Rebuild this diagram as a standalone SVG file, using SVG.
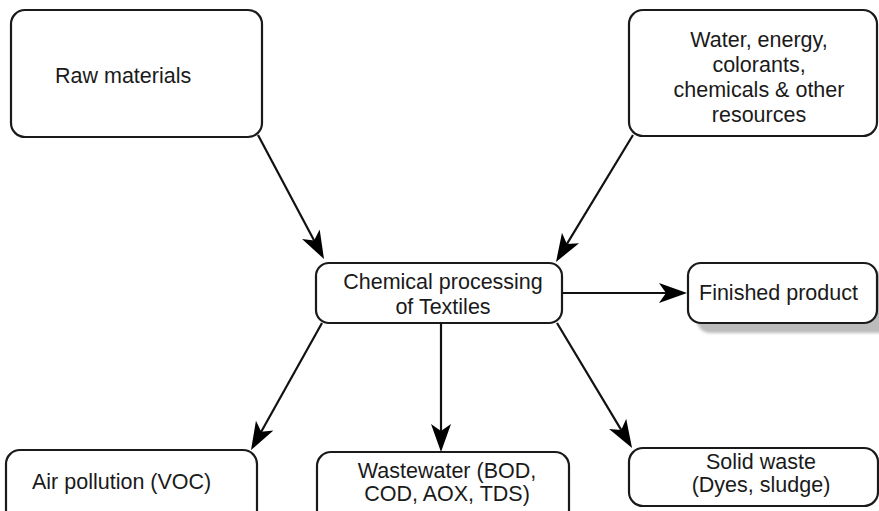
<svg xmlns="http://www.w3.org/2000/svg" width="879" height="511" viewBox="0 0 879 511">
  <style>
    .box { fill: #ffffff; stroke: #1a1a1a; stroke-width: 2.2; }
    .shadow { fill: #bbbbbb; }
    .lbl { font-family: "Liberation Sans", Arial, sans-serif; font-size: 21.5px; fill: #1a1a1a; }
    .mid { text-anchor: middle; }
    .edge { stroke: #111111; stroke-width: 2.2; fill: none; marker-end: url(#head); }
  </style>
  <defs>
    <marker id="head" markerUnits="userSpaceOnUse" markerWidth="30" markerHeight="22" viewBox="0 0 30 22" refX="18" refY="11" orient="auto">
      <path d="M0,1 L28,11 L0,21 L7,11 Z" fill="#000000"/>
    </marker>
    <filter id="soft" x="-10%" y="-10%" width="120%" height="130%">
      <feGaussianBlur stdDeviation="1.5"/>
    </filter>
  </defs>
  <rect width="879" height="511" fill="#ffffff"/>

  <g id="raw-materials">
    <rect class="box" x="11" y="10" width="251" height="127" rx="14"/>
    <text class="lbl" x="55" y="83">Raw materials</text>
  </g>

  <g id="resources">
    <rect class="box" x="629" y="10" width="248" height="126" rx="14"/>
    <text class="lbl mid" x="759" y="47">Water, energy,</text>
    <text class="lbl mid" x="759" y="72">colorants,</text>
    <text class="lbl mid" x="759" y="97">chemicals &amp; other</text>
    <text class="lbl mid" x="759" y="122">resources</text>
  </g>

  <g id="processing">
    <rect class="box" x="316" y="263" width="246" height="60" rx="13"/>
    <text class="lbl mid" x="443" y="289">Chemical processing</text>
    <text class="lbl mid" x="443" y="314">of Textiles</text>
  </g>

  <g id="finished-product">
    <rect class="shadow" x="697" y="272" width="200" height="61" rx="13" filter="url(#soft)"/>
    <rect class="box" x="688" y="263" width="189" height="60" rx="13"/>
    <text class="lbl" x="699" y="300">Finished product</text>
  </g>

  <g id="air-pollution">
    <rect class="box" x="6" y="450" width="251" height="80" rx="14"/>
    <text class="lbl" x="32" y="489">Air pollution (VOC)</text>
  </g>

  <g id="wastewater">
    <rect class="box" x="317" y="452" width="252" height="80" rx="14"/>
    <text class="lbl mid" x="447" y="478">Wastewater (BOD,</text>
    <text class="lbl mid" x="447" y="501">COD, AOX, TDS)</text>
  </g>

  <g id="solid-waste">
    <rect class="box" x="629" y="448" width="249" height="58" rx="14"/>
    <text class="lbl mid" x="761" y="469">Solid waste</text>
    <text class="lbl mid" x="761" y="492">(Dyes, sludge)</text>
  </g>

  <g id="connectors">
    <line class="edge" x1="258" y1="135" x2="319.3" y2="250.2"/>
    <line class="edge" x1="633" y1="135" x2="561.2" y2="253.4"/>
    <line class="edge" x1="562" y1="293" x2="677" y2="293"/>
    <line class="edge" x1="322" y1="323" x2="255.9" y2="441.3"/>
    <line class="edge" x1="441" y1="323" x2="441" y2="442"/>
    <line class="edge" x1="557" y1="323" x2="626.9" y2="439.4"/>
  </g>
</svg>
